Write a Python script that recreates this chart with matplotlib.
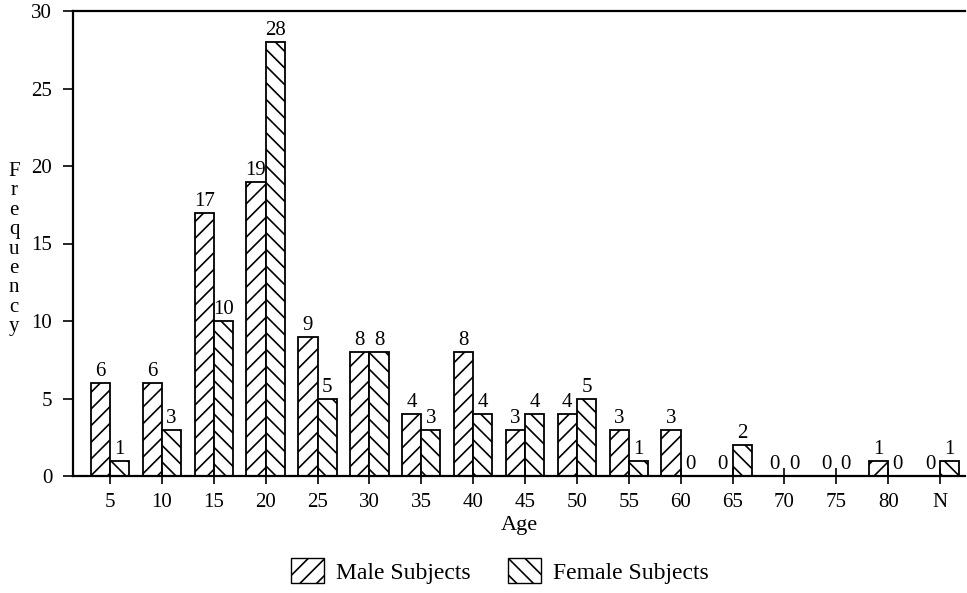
import matplotlib
matplotlib.use("Agg")
import matplotlib.pyplot as plt
import numpy as np
from matplotlib.patches import Patch

categories = ["5", "10", "15", "20", "25", "30", "35", "40", "45", "50",
              "55", "60", "65", "70", "75", "80", "N"]
male = [6, 6, 17, 19, 9, 8, 4, 8, 3, 4, 3, 3, 0, 0, 0, 1, 0]
female = [1, 3, 10, 28, 5, 8, 3, 4, 4, 5, 1, 0, 2, 0, 0, 0, 1]

plt.rcParams['font.family'] = ['Liberation Serif', 'DejaVu Serif']
plt.rcParams['hatch.linewidth'] = 1.2

fig = plt.figure(figsize=(9.67, 5.93), dpi=100)
ax = fig.add_axes([73/967, 1-476/593, (965-73)/967, (476-11)/593])

x = np.arange(len(categories))
w = 0.37
ax.bar(x - w/2, male, width=w, facecolor='white', edgecolor='black',
       linewidth=1.3, hatch='//')
ax.bar(x + w/2, female, width=w, facecolor='white', edgecolor='black',
       linewidth=1.3, hatch='\\\\')

for xi, v in zip(x, male):
    ax.text(xi - w/2, v + 0.1, str(v), ha='center', va='bottom', fontsize=15)
for xi, v in zip(x, female):
    ax.text(xi + w/2, v + 0.1, str(v), ha='center', va='bottom', fontsize=15)

ax.set_ylim(0, 30)
ax.set_xlim((73-110)/51.875, (965-110)/51.875)
ax.set_yticks([0, 5, 10, 15, 20, 25, 30])
ax.set_xticks(x)
ax.set_xticklabels(categories)
ax.tick_params(axis='y', direction='out', length=7, width=1.2, labelsize=15, pad=8)
ax.tick_params(axis='x', direction='inout', length=12, width=1.2, labelsize=15, pad=6)

ax.spines['right'].set_visible(False)
for s in ['top', 'left', 'bottom']:
    ax.spines[s].set_linewidth(1.6)

ax.set_xlabel("Age", fontsize=16, labelpad=3)
fig.text(14/967, 1-249/593, "\n".join("Frequency"), ha='center', va='center',
         fontsize=15, linespacing=1.03)

handles = [Patch(facecolor='white', edgecolor='black', hatch='//', label='Male Subjects'),
           Patch(facecolor='white', edgecolor='black', hatch='\\\\', label='Female Subjects')]
fig.legend(handles=handles, loc='center', bbox_to_anchor=(500/967, 1-571/593),
           ncol=2, frameon=False, fontsize=17, handlelength=1.4, handleheight=1.2,
           columnspacing=1.6, handletextpad=0.5)

fig.savefig("out.png", dpi=100)
